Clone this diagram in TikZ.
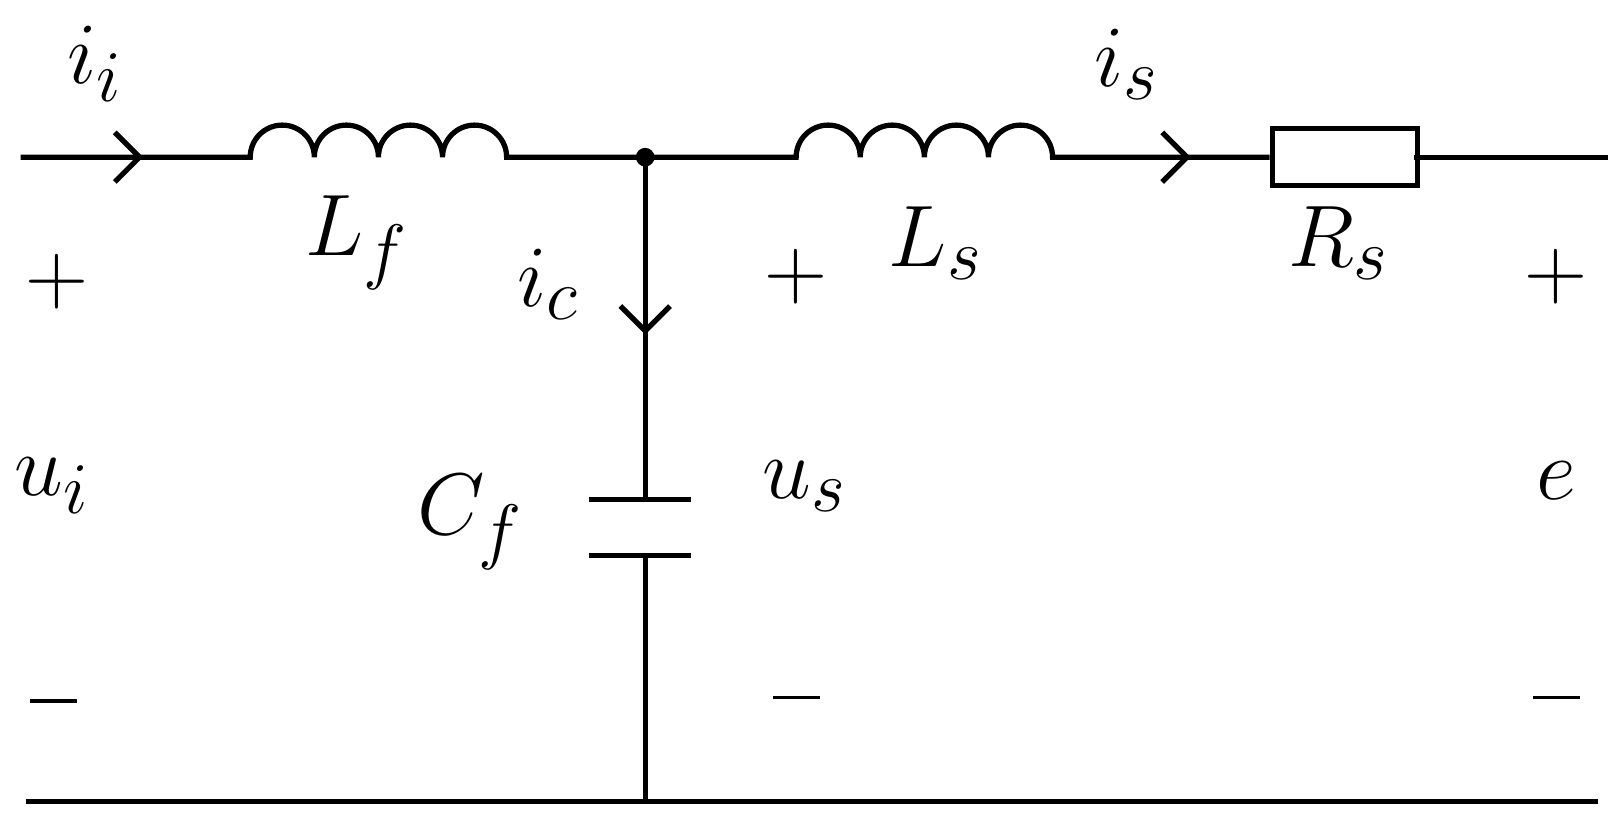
\documentclass[tikz,border=0pt]{standalone}
\newcommand{\lab}[2]{$#1_{#2}$}
\begin{document}
\begin{tikzpicture}[x=0.01034cm,y=-0.01034cm,line width=1.5pt,
  txt/.style={font=\fontsize{29}{34}\selectfont,inner sep=0pt},
  sgn/.style={font=\fontsize{31}{35}\selectfont,inner sep=0pt}]
\coordinate (a) at (20,152); \coordinate (lf1) at (242,152); \coordinate (lf2) at (490,152);
\coordinate (j) at (624,152); \coordinate (ls1) at (770,152); \coordinate (ls2) at (1018,152);
\coordinate (r1) at (1228,152); \coordinate (r2) at (1368,152); \coordinate (b) at (1555,152);
\coordinate (c1) at (624,483); \coordinate (c2) at (624,537); \coordinate (g) at (624,775);
\coordinate (gl) at (25,775); \coordinate (gr) at (1546,775);
\draw (a) -- (lf1) arc[start angle=180,end angle=360,radius=31] arc[start angle=180,end angle=360,radius=31] arc[start angle=180,end angle=360,radius=31] arc[start angle=180,end angle=360,radius=31] -- (ls1) arc[start angle=180,end angle=360,radius=31] arc[start angle=180,end angle=360,radius=31] arc[start angle=180,end angle=360,radius=31] arc[start angle=180,end angle=360,radius=31] -- (r1);
\draw (r2) -- (b);
\node[draw,line width=1.5pt,minimum width=1.45cm,minimum height=0.57cm,anchor=west,inner sep=0pt] (R) at (r1) {};
\draw (j) -- (c1);
\draw (570,483) -- (668,483); \draw (570,537) -- (668,537);
\draw (c2) -- (g);
\draw (gl) -- (gr);
\fill (j) circle (9);
\coordinate (t1) at (135,152); \draw (t1) ++(-24,-24) -- (t1) -- ++(-24,24);
\coordinate (t2) at (1148,152); \draw (t2) ++(-24,-24) -- (t2) -- ++(-24,24);
\coordinate (t3) at (624,320); \draw (t3) ++(-24,-24) -- (t3) -- ++(24,-24);
\node[txt] at (92,62) {\lab{i}{i}};
\node[txt] at (1090,62) {\lab{i}{s}};
\node[txt] at (345,235) {\lab{L}{f}};
\node[txt] at (905,235) {\lab{L}{s}};
\node[txt] at (1295,235) {\lab{R}{s}};
\node[txt] at (530,275) {\lab{i}{c}};
\node[txt] at (455,505) {\lab{C}{f}};
\node[txt] at (50,470) {\lab{u}{i}};
\node[txt] at (778,470) {\lab{u}{s}};
\node[txt] at (1505,465) {$e$};
\node[sgn] at (55,272) {$+$}; \node[sgn] at (770,268) {$+$}; \node[sgn] at (1505,268) {$+$};
\node[sgn] at (52,678) {\rule{0.47cm}{0.9pt}};
\node[sgn] at (770,675) {\rule{0.47cm}{0.9pt}};
\node[sgn] at (1505,675) {\rule{0.47cm}{0.9pt}};
\pgfresetboundingbox
\path[use as bounding box] (0,0) rectangle (1562,799);
\end{tikzpicture}
\end{document}
